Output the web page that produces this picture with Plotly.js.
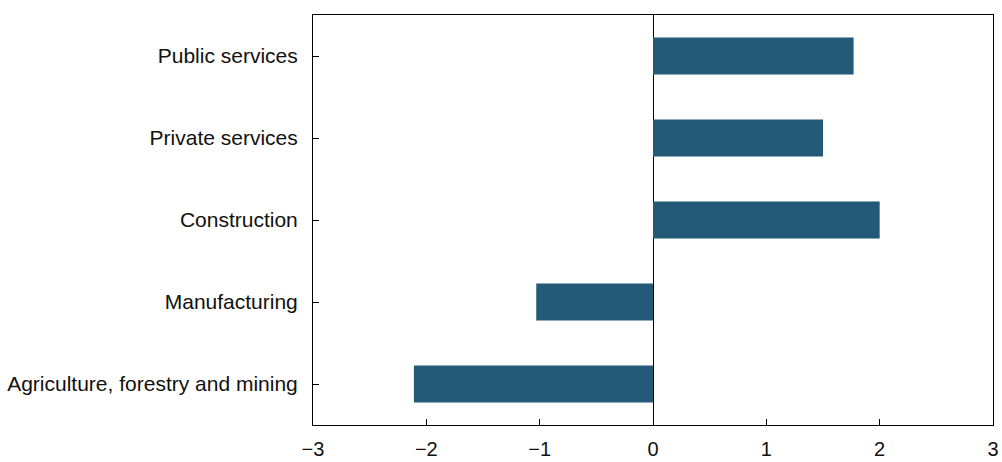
<!DOCTYPE html>
<html>
<head>
<meta charset="utf-8">
<script src="https://cdn.plot.ly/plotly-3.0.1.min.js"></script>
<style>html,body{margin:0;padding:0;background:#fff;}#chart{width:1002px;height:462px;}</style>
</head>
<body>
<div id="chart"></div>
<script>
const categories = ["Agriculture, forestry and mining", "Manufacturing", "Construction", "Private services", "Public services"];
const values = [-2.11, -1.03, 2.0, 1.5, 1.77];
const xTicks = [-3, -2, -1, 0, 1, 2, 3];
const xTickLabels = ["\u22123", "\u22122", "\u22121", "0", "1", "2", "3"];

const trace = {
  type: "bar",
  orientation: "h",
  x: values,
  y: categories,
  width: 0.45,
  marker: {color: "#225a78"},
  hoverinfo: "x+y"
};

const layout = {
  width: 1002,
  height: 462,
  margin: {l: 313, r: 9, t: 15, b: 37},
  paper_bgcolor: "#fff",
  plot_bgcolor: "#fff",
  showlegend: false,
  font: {family: "Liberation Sans, Arial, sans-serif", size: 20, color: "#111"},
  xaxis: {
    range: [-3, 3],
    tickvals: xTicks,
    ticktext: xTickLabels,
    ticks: "inside",
    ticklen: 6,
    tickcolor: "#000",
    showgrid: false,
    zeroline: true,
    zerolinecolor: "#000",
    zerolinewidth: 1,
    showline: true,
    linecolor: "#000",
    linewidth: 1,
    mirror: true,
    tickfont: {size: 20},
    ticklabelstandoff: 6
  },
  yaxis: {
    type: "category",
    categoryorder: "array",
    categoryarray: categories,
    range: [-0.5, 4.5],
    ticks: "inside",
    ticklen: 6,
    tickcolor: "#000",
    showgrid: false,
    showline: true,
    linecolor: "#000",
    linewidth: 1,
    mirror: true,
    tickfont: {size: 21},
    ticklabelstandoff: 10
  }
};

Plotly.newPlot("chart", [trace], layout, {displayModeBar: false, staticPlot: true});
</script>
</body>
</html>
